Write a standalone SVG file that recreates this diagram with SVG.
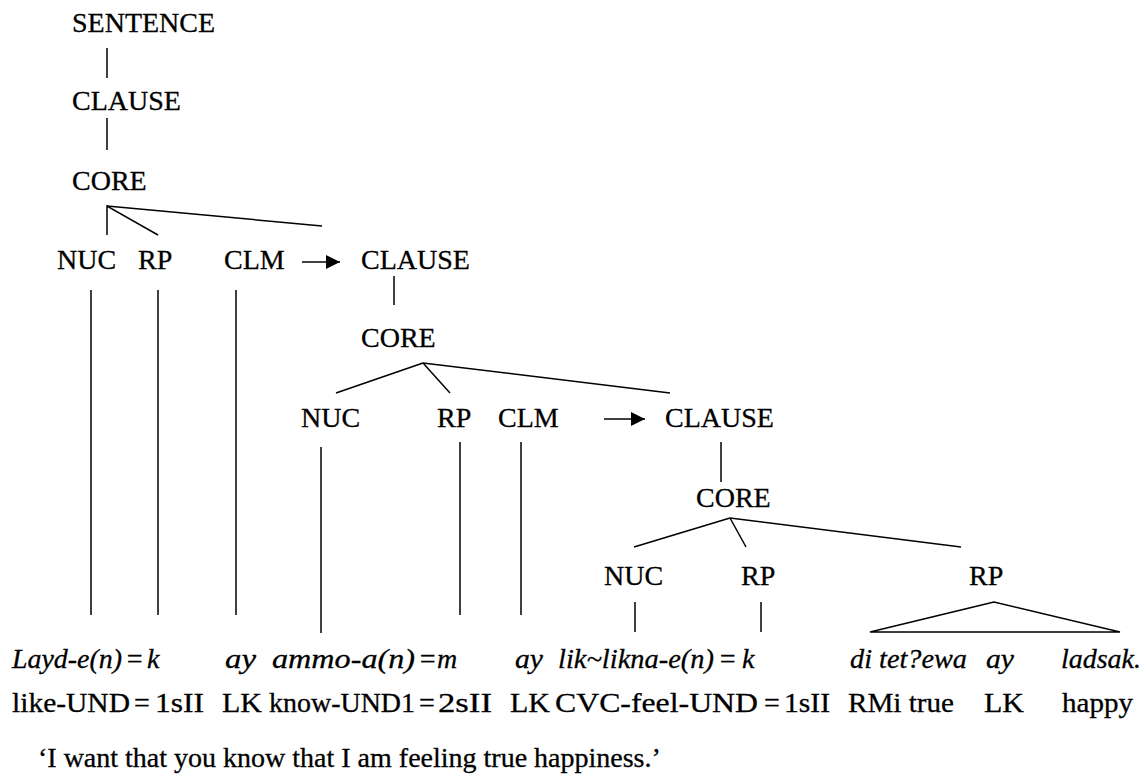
<svg xmlns="http://www.w3.org/2000/svg" width="1148" height="776" viewBox="0 0 1148 776" font-family="'Liberation Serif', 'DejaVu Serif', serif" font-size="28">
  <style>
    text { font-family: 'Liberation Serif', 'DejaVu Serif', serif; font-size: 28px; fill: #000; stroke: #000; stroke-width: 0.3; }
    .it { font-style: italic; }
    .ln { stroke: #000; stroke-width: 1.5; fill: none; stroke-linecap: butt; }
  </style>
  <defs>
    <marker id="arrowhead" viewBox="0 0 10 10" refX="10" refY="5" markerWidth="15" markerHeight="14" markerUnits="userSpaceOnUse" orient="auto">
      <path d="M0,0 L10,5 L0,10 Z" fill="#000"/>
    </marker>
  </defs>
  <rect width="1148" height="776" fill="#fff"/>

  <!-- tree nodes -->
  <g id="sentence"><text x="72" y="32">SENTENCE</text></g>
  <g id="clause1"><text x="72" y="110">CLAUSE</text></g>
  <g id="core1"><text x="72" y="190">CORE</text></g>
  <g id="nuc1"><text x="57" y="269">NUC</text></g>
  <g id="rp1"><text x="138" y="269">RP</text></g>
  <g id="clm1"><text x="224" y="269">CLM</text></g>
  <g id="clause2"><text x="361" y="269">CLAUSE</text></g>
  <g id="core2"><text x="361" y="347">CORE</text></g>
  <g id="nuc2"><text x="301" y="427">NUC</text></g>
  <g id="rp2"><text x="437" y="427">RP</text></g>
  <g id="clm2"><text x="498" y="427">CLM</text></g>
  <g id="clause3"><text x="665" y="427">CLAUSE</text></g>
  <g id="core3"><text x="696" y="507">CORE</text></g>
  <g id="nuc3"><text x="604" y="585">NUC</text></g>
  <g id="rp3"><text x="741" y="585">RP</text></g>
  <g id="rp4"><text x="969" y="585">RP</text></g>

  <!-- object-language words (italic) -->
  <g id="words">
    <text class="it" y="668"><tspan x="12" textLength="110" lengthAdjust="spacingAndGlyphs">Layd-e(n)</tspan><tspan x="125">=</tspan><tspan x="147">k</tspan></text>
    <text class="it" x="225" y="668" textLength="31" lengthAdjust="spacingAndGlyphs">ay</text>
    <text class="it" y="668"><tspan x="272" textLength="143" lengthAdjust="spacingAndGlyphs">ammo-a(n)</tspan><tspan x="418">=</tspan><tspan x="437">m</tspan></text>
    <text class="it" x="515" y="668" textLength="28" lengthAdjust="spacingAndGlyphs">ay</text>
    <text class="it" y="668"><tspan x="558" textLength="156" lengthAdjust="spacingAndGlyphs">lik~likna-e(n)</tspan><tspan x="718">=</tspan><tspan x="742">k</tspan></text>
    <text class="it" x="850" y="668" textLength="117" lengthAdjust="spacingAndGlyphs">di tet?ewa</text>
    <text class="it" x="986" y="668" textLength="28" lengthAdjust="spacingAndGlyphs">ay</text>
    <text class="it" x="1061" y="668" textLength="80" lengthAdjust="spacingAndGlyphs">ladsak.</text>
  </g>

  <!-- glosses -->
  <g id="glosses">
    <text y="712"><tspan x="12" textLength="118" lengthAdjust="spacingAndGlyphs">like-UND</tspan><tspan x="134">=</tspan><tspan x="155" textLength="49" lengthAdjust="spacingAndGlyphs">1sII</tspan></text>
    <text x="222" y="712" textLength="40" lengthAdjust="spacingAndGlyphs">LK</text>
    <text y="712"><tspan x="269" textLength="146" lengthAdjust="spacingAndGlyphs">know-UND1</tspan><tspan x="419">=</tspan><tspan x="438" textLength="54" lengthAdjust="spacingAndGlyphs">2sII</tspan></text>
    <text x="510" y="712" textLength="40" lengthAdjust="spacingAndGlyphs">LK</text>
    <text y="712"><tspan x="555" textLength="203" lengthAdjust="spacingAndGlyphs">CVC-feel-UND</tspan><tspan x="764">=</tspan><tspan x="784" textLength="46" lengthAdjust="spacingAndGlyphs">1sII</tspan></text>
    <text x="848" y="712" textLength="106" lengthAdjust="spacingAndGlyphs">RMi true</text>
    <text x="984" y="712" textLength="40" lengthAdjust="spacingAndGlyphs">LK</text>
    <text x="1062" y="712" textLength="71" lengthAdjust="spacingAndGlyphs">happy</text>
  </g>

  <!-- free translation -->
  <g id="translation">
    <text x="38" y="767">‘I want that you know that I am feeling true happiness.’</text>
  </g>

  <!-- connectors -->
  <g id="connectors" class="ln">
    <!-- SENTENCE / CLAUSE / CORE spine -->
    <line x1="107" y1="48" x2="107" y2="78"/>
    <line x1="107" y1="118" x2="107" y2="150"/>
    <!-- first CORE fan -->
    <polyline points="107,235 107,206 158,235"/>
    <line x1="107" y1="206" x2="322" y2="226"/>
    <!-- CLM linking arrows -->
    <line x1="302" y1="262" x2="340" y2="262" marker-end="url(#arrowhead)"/>
    <line x1="604" y1="419" x2="645" y2="419" marker-end="url(#arrowhead)"/>
    <!-- drops to the first word row -->
    <line x1="91" y1="290" x2="91" y2="615"/>
    <line x1="158" y1="290" x2="158" y2="615"/>
    <line x1="236" y1="290" x2="236" y2="615"/>
    <!-- embedded CLAUSE -->
    <line x1="394" y1="276" x2="394" y2="305"/>
    <!-- second CORE fan -->
    <line x1="423" y1="363" x2="336" y2="393"/>
    <line x1="423" y1="363" x2="450" y2="393"/>
    <line x1="423" y1="363" x2="670" y2="393"/>
    <line x1="321" y1="447" x2="321" y2="633"/>
    <line x1="460" y1="442" x2="460" y2="615"/>
    <line x1="521" y1="442" x2="521" y2="615"/>
    <!-- innermost CLAUSE -->
    <line x1="721" y1="442" x2="721" y2="482"/>
    <!-- third CORE fan -->
    <line x1="730" y1="518" x2="634" y2="547"/>
    <line x1="730" y1="518" x2="746" y2="547"/>
    <line x1="730" y1="518" x2="961" y2="547"/>
    <line x1="635" y1="602" x2="635" y2="632"/>
    <line x1="761" y1="602" x2="761" y2="632"/>
    <!-- RP triangle -->
    <polygon points="994,602 870,632 1120,632" stroke-linejoin="miter"/>
  </g>
</svg>
